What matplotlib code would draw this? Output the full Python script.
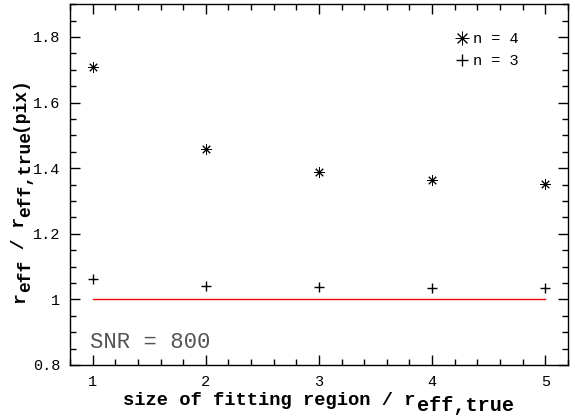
import matplotlib
matplotlib.use('Agg')
import matplotlib.pyplot as plt
from matplotlib.ticker import MultipleLocator

plt.rcParams['font.family'] = ['Liberation Mono', 'DejaVu Sans']

# data
fit_size = [1, 2, 3, 4, 5]
ratio_n4 = [1.710, 1.459, 1.389, 1.364, 1.352]
ratio_n3 = [1.061, 1.040, 1.037, 1.034, 1.034]
ref_level = 1.0

W, H = 575, 420
fig = plt.figure(figsize=(W / 100, H / 100), dpi=100)
ax = fig.add_axes([0.1217, 0.131, 0.866, 0.859])

ax.plot(fit_size, ratio_n4, linestyle='none', marker=(8, 2, 0), markersize=7.5,
        markeredgewidth=0.7, color='black', label='n = 4')
ax.plot(fit_size, ratio_n3, linestyle='none', marker='+', markersize=7,
        markeredgewidth=1.0, color='black', label='n = 3')

# reference line at 1
ax.plot([fit_size[0], fit_size[-1]], [ref_level, ref_level], color='red', lw=1)

ax.set_xlim(0.8, 5.2)
ax.set_ylim(0.8, 1.9)
ax.xaxis.set_major_locator(MultipleLocator(1))
ax.xaxis.set_minor_locator(MultipleLocator(0.2))
ax.yaxis.set_major_locator(MultipleLocator(0.2))
ax.yaxis.set_minor_locator(MultipleLocator(0.05))
ax.yaxis.set_major_formatter(plt.FuncFormatter(lambda v, p: '%g' % round(v, 2)))

ax.tick_params(which='both', direction='in', top=True, right=True, width=1,
               labelsize=11, colors='black')
ax.tick_params(which='major', length=7, pad=7)
ax.tick_params(which='minor', length=4)
for s in ax.spines.values():
    s.set_linewidth(1)

# axis labels, built piece by piece so the subscripts stay full size
lab = dict(fontsize=13.5, fontweight='bold', color='black')
sub = dict(fontsize=14.5, fontweight='bold', color='black')
t = fig.text(123 / W, 1 - 405 / H, 'size of fitting region / r',
             ha='left', va='baseline', **lab)
ax.annotate('eff,true', xy=(1, 0), xycoords=t, xytext=(1, -4),
            textcoords='offset points', ha='left', va='bottom', **sub)

ylab = dict(rotation=90, ha='right', va='bottom', fontsize=13, fontweight='bold')
y0 = fig.text(28 / W, 1 - 303 / H, 'r', **ylab)
y1 = ax.annotate('eff', xy=(1, 1), xycoords=y0, xytext=(4.5, 0),
                 textcoords='offset points', **ylab)
y2 = ax.annotate(' / r', xy=(1, 1), xycoords=y1, xytext=(-4.5, 0),
                 textcoords='offset points', **ylab)
y3 = ax.annotate('eff,true', xy=(1, 1), xycoords=y2, xytext=(4.5, 0),
                 textcoords='offset points', **ylab)
ax.annotate('(pix)', xy=(1, 1), xycoords=y3, xytext=(-4.5, 0),
            textcoords='offset points', **ylab)

ax.text(0.975, 0.870, 'SNR = 800', fontsize=16, color='#555555',
        ha='left', va='center')

ax.legend(frameon=False, loc='upper right', bbox_to_anchor=(0.90, 0.922),
          handlelength=0.8, handletextpad=0.3, labelspacing=0.5, fontsize=11,
          borderaxespad=0, borderpad=0, markerscale=1.3)

fig.savefig('out.png', dpi=100)
